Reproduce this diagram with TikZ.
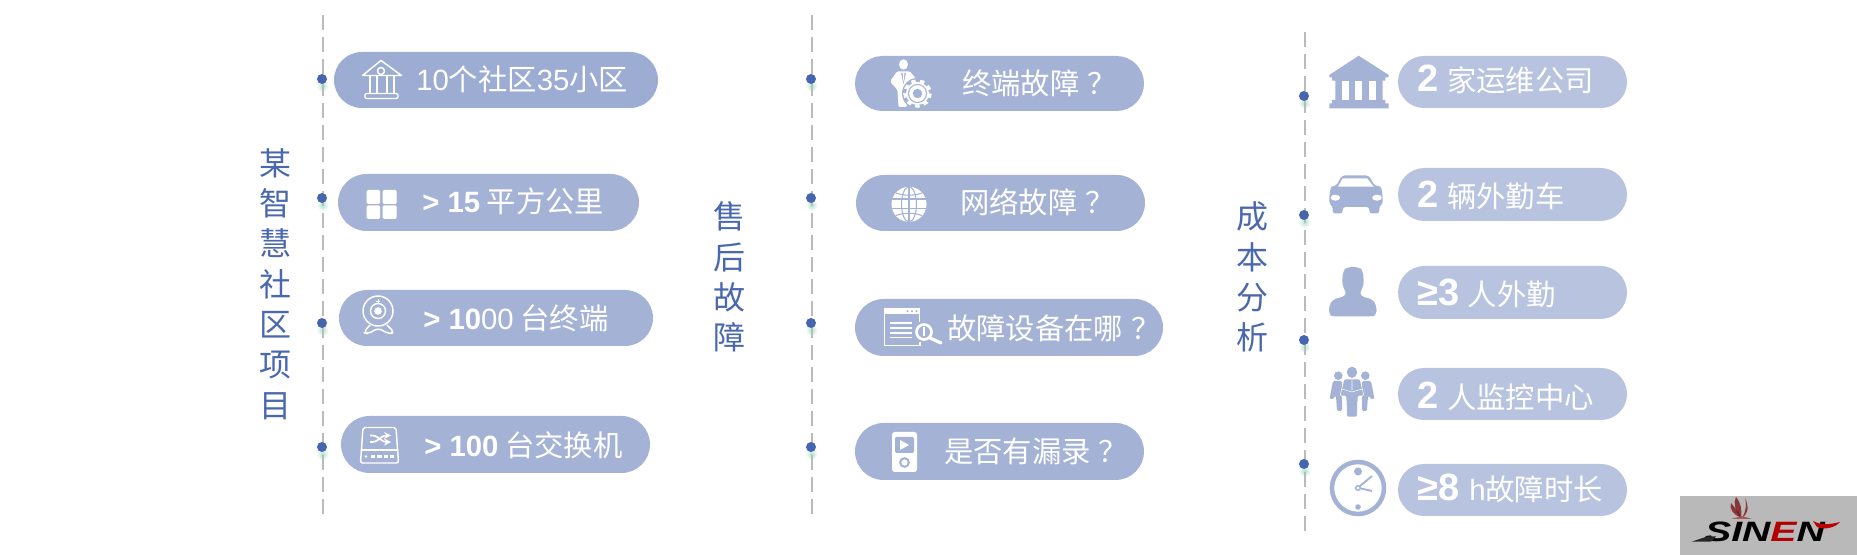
\documentclass[tikz,border=0pt]{standalone}
\usepackage{fontspec}
\setmainfont{Liberation Sans}
\newfontfamily\cjk{Noto Sans CJK SC}
\usetikzlibrary{shapes.misc}
\definecolor{titleblue}{HTML}{4A68AE}
\definecolor{dotblue}{HTML}{4566AE}
\definecolor{axisgray}{HTML}{BBBBBB}
\definecolor{pilldark}{HTML}{9DACD3}
\definecolor{pillmid}{HTML}{A4B2D6}
\definecolor{pilllight}{HTML}{B7C3DF}
\definecolor{glowgreen}{HTML}{AEE4CE}
\newcommand{\nm}[1]{{\rmfamily #1}}
\newcommand{\bnm}[1]{{\rmfamily\bfseries #1}}
\newcommand{\bigbnm}[1]{{\rmfamily\bfseries\fontsize{28.5}{28.5}\selectfont #1}}
\newcommand{\qmark}{\hspace{6pt}？}

\begin{document}
\begin{tikzpicture}[x=0.75pt,y=-0.75pt,
    pill/.style={rounded rectangle,inner sep=0pt,fill=pillmid},
    lightpill/.style={pill,fill=pilllight},
    lab/.style={anchor=base west,inner sep=0pt,text=white,font=\cjk\fontsize{22}{22}\selectfont},
    coltitle/.style={align=center,inner sep=0pt,text=titleblue,font=\cjk\fontsize{24}{30.2}\selectfont},
    axisline/.style={axisgray,line width=1.5pt,dash pattern=on 11.6pt off 4.9pt},
    dot/.style={circle,inner sep=0pt,minimum size=7.5pt,fill=dotblue},
    glow/.style={circle,inner sep=0pt,minimum size=9pt,inner color=glowgreen,outer color=white},
    icon/.style={white,line width=1.1pt,line join=round}]

  \useasboundingbox (0,0) rectangle (1857,555);

  \node[glow] (glowA1) at (322.5,86) {};
  \node[glow] (glowA2) at (322.5,205) {};
  \node[glow] (glowA3) at (322.5,330) {};
  \node[glow] (glowA4) at (322.5,454) {};
  \node[glow] (glowB1) at (811.5,86) {};
  \node[glow] (glowB2) at (811.5,205) {};
  \node[glow] (glowB3) at (811.5,330) {};
  \node[glow] (glowB4) at (811.5,454) {};
  \node[glow] (glowC1) at (1304.5,103) {};
  \node[glow] (glowC2) at (1304.5,222) {};
  \node[glow] (glowC3) at (1304.5,347) {};
  \node[glow] (glowC4) at (1304.5,471) {};

  \coordinate (axisAtop) at (322.8,15);
  \coordinate (axisAbot) at (322.8,515);
  \coordinate (axisBtop) at (811.8,15);
  \coordinate (axisBbot) at (811.8,515);
  \coordinate (axisCtop) at (1305,32);
  \coordinate (axisCbot) at (1305,532);
  \draw[axisline] (axisAtop) -- (axisAbot);
  \draw[axisline] (axisBtop) -- (axisBbot);
  \draw[axisline] (axisCtop) -- (axisCbot);

  \node[dot] (dotA1) at (322,79) {};
  \node[dot] (dotA2) at (322,198) {};
  \node[dot] (dotA3) at (322,323) {};
  \node[dot] (dotA4) at (322,447) {};
  \node[dot] (dotB1) at (811,79) {};
  \node[dot] (dotB2) at (811,198) {};
  \node[dot] (dotB3) at (811,323) {};
  \node[dot] (dotB4) at (811,447) {};
  \node[dot] (dotC1) at (1304,96) {};
  \node[dot] (dotC2) at (1304,215) {};
  \node[dot] (dotC3) at (1304,340) {};
  \node[dot] (dotC4) at (1304,464) {};

  \node[coltitle] (titleA) at (275,284) {某\\智\\慧\\社\\区\\项\\目};
  \node[coltitle] (titleB) at (729,277) {售\\后\\故\\障};
  \node[coltitle] (titleC) at (1252,277) {成\\本\\分\\析};

  \node[pill,fill=pilldark,minimum width=243pt,minimum height=42pt] (pillA1) at (496,80) {};
  \node[pill,minimum width=225.75pt,minimum height=42.75pt] (pillA2) at (488.5,202.5) {};
  \node[pill,minimum width=235.5pt,minimum height=42pt] (pillA3) at (496,318) {};
  \node[pill,minimum width=231.75pt,minimum height=42.75pt] (pillA4) at (495.5,444.5) {};
  \node[pill,minimum width=216.75pt,minimum height=41.25pt] (pillB1) at (999.5,83.5) {};
  \node[pill,minimum width=216.75pt,minimum height=42pt] (pillB2) at (1000.5,203) {};
  \node[pill,minimum width=231pt,minimum height=42.75pt] (pillB3) at (1009,327.5) {};
  \node[pill,minimum width=216.75pt,minimum height=42.75pt] (pillB4) at (999.5,451.5) {};
  \node[lightpill,minimum width=171.75pt,minimum height=39pt] (pillC1) at (1512.5,82) {};
  \node[lightpill,minimum width=171.75pt,minimum height=39.75pt] (pillC2) at (1512.5,194.5) {};
  \node[lightpill,minimum width=171.75pt,minimum height=39.75pt] (pillC3) at (1512.5,292.5) {};
  \node[lightpill,minimum width=171.75pt,minimum height=39pt] (pillC4) at (1512.5,394) {};
  \node[lightpill,minimum width=171.75pt,minimum height=39pt] (pillC5) at (1512.5,490) {};

  \node[lab] (labA1) at (416,91) {\nm{10}个社区\nm{35}小区};
  \node[lab] (labA2) at (422,212.5) {\bnm{> 15} 平方公里};
  \node[lab] (labA3) at (423,329.5) {\bnm{> 10}\nm{00} 台终端};
  \node[lab] (labA4) at (424,456.5) {\bnm{> 100} 台交换机};
  \node[lab] (labB1) at (962,94.5) {终端故障\qmark};
  \node[lab] (labB2) at (960,213.5) {网络故障\qmark};
  \node[lab] (labB3) at (947,339.5) {故障设备在哪\qmark};
  \node[lab] (labB4) at (944,462.5) {是否有漏录\qmark};
  \node[lab] (labC1) at (1417,91.5) {\bigbnm{2}\hspace{6.5pt}家运维公司};
  \node[lab] (labC2) at (1417,207.5) {\bigbnm{2}\hspace{6.5pt}辆外勤车};
  \node[lab] (labC3) at (1417,305.5) {\bigbnm{≥3}\hspace{6.5pt}人外勤};
  \node[lab] (labC4) at (1417,408.5) {\bigbnm{2}\hspace{6.5pt}人监控中心};
  \node[lab] (labC5) at (1417,500.5) {\bigbnm{≥8}\hspace{7.5pt}\nm{h}故障时长};

  \draw[icon,line cap=round] (381,60.5) -- (362.5,75.5) -- (401.5,75.5) -- cycle;
  \draw[icon] (381,71) circle (3.5);
  \draw[icon] (370,76) -- (370,93) (377,76) -- (377,93) (387,76) -- (387,93) (394,76) -- (394,93);
  \draw[icon,rounded corners=1pt] (365,93.5) rectangle (398,98.5);

  \fill[white,rounded corners=1pt] (366.7,190) rectangle (380,204);
  \fill[white,rounded corners=1pt] (382.7,190) rectangle (396.7,204);
  \fill[white,rounded corners=1pt] (366.7,205.3) rectangle (380,219);
  \fill[white,rounded corners=1pt] (382.7,205.3) rectangle (396.7,219);

  \draw[icon] (378,311) circle (15);
  \draw[icon] (378,311) circle (7.5);
  \fill[white] (378,311) circle (3.8);
  \draw[white,line width=0.7pt] (376,301) -- (380,301) (378,299) -- (378,303);
  \draw[icon,rounded corners=3pt] (370,325) -- (363.5,332.5) -- (368,334) -- (378,328) -- (389,334) -- (394.5,332.5) -- (387,325);

  \draw[icon,rounded corners=1.5pt] (363,427.5) -- (396,427.5) -- (398.5,463) -- (360.5,463) -- cycle;
  \draw[icon] (361,450) -- (398,450);
  \draw[icon,line width=1.3pt,rounded corners=2pt,-stealth] (370,442) -- (375,442) -- (384,435.5) -- (391,435.5);
  \draw[icon,line width=1.3pt,rounded corners=2pt,-stealth] (370,435.5) -- (375,435.5) -- (384,442) -- (391,442);
  \fill[white] (366,456.5) circle (1.3);
  \draw[white,line width=1.6pt,dash pattern=on 3.2pt off 1.6pt] (371,456.5) -- (395,456.5);

  \fill[white] (903.5,64.5) ellipse (4.5 and 5.2);
  \fill[white,rounded corners=1pt] (897,71.5) -- (910,71.5) -- (917,80) -- (908,90) -- (907,107) -- (898.5,107) -- (897.5,90) -- (890,81.5) -- cycle;
  \fill[pillmid] (901,73) -- (903.5,84) -- (906,73) -- cycle;
  \fill[white] (902.5,73) -- (904.5,73) -- (903.5,82) -- cycle;
  \fill[pillmid] (917.5,93.5) circle (15.5);
  \draw[white,line width=2.6pt,dash pattern=on 3.27pt off 3.27pt] (917.5,93.5) circle (12.5);
  \fill[white] (917.5,93.5) circle (11.5);
  \fill[pillmid] (917.5,93.5) circle (9.6);
  \fill[white] (917.5,93.5) circle (8.4);
  \fill[pillmid] (917.5,93.5) circle (4.7);

  \fill[white] (909,204.3) circle (17.5);
  \draw[pillmid,line width=0.8pt] (909,204.3) ellipse (7.5 and 17.5);
  \draw[pillmid,line width=0.8pt] (909,186.8) -- (909,221.8);
  \draw[pillmid,line width=0.8pt] (892,199) -- (926,199) (892,208.5) -- (926,208.5);
  \draw[pillmid,line width=0.8pt] (896,193) .. controls (904,196) and (914,196) .. (922,193);
  \draw[pillmid,line width=0.8pt] (896,215.5) .. controls (904,212.5) and (914,212.5) .. (922,215.5);

  \draw[white,line width=1.3pt] (920,342) -- (920,345.5) -- (884.5,345.5) -- (884.5,308.5) -- (919.5,308.5) -- (919.5,322);
  \fill[white] (884,308) rectangle (920,314.5);
  \fill[pillmid] (907.5,311.3) circle (1.1) (912,311.3) circle (1.1) (916.5,311.3) circle (1.1);
  \draw[white,line width=0.9pt] (890,323) -- (912,323) (890,328) -- (912,328) (890,333) -- (912,333) (890,337.5) -- (912,337.5);
  \draw[white,line width=2.4pt,line cap=round] (930,338) -- (941,343);
  \draw[white,fill=pillmid,line width=2pt] (924,332) circle (7.5);
  \fill[white] (923,327.5) rectangle (925,336);

  \fill[white,rounded corners=2pt] (892,432) rectangle (917,472);
  \fill[pillmid,rounded corners=1pt] (895,437) rectangle (914,453);
  \fill[white] (900,440) -- (900,450) -- (909,445) -- cycle;
  \draw[pillmid,line width=1.5pt] (904.5,462.5) circle (4.3);

  \fill[pillmid] (1358.7,55.7) -- (1388.7,75) -- (1388.7,77.3) -- (1385.3,77.3) -- (1385.3,80.7) -- (1382.7,80.7) -- (1382.7,100) -- (1385.3,100) -- (1385.3,103.3) -- (1388.7,103.3) -- (1388.7,108.3) -- (1329.3,108.3) -- (1329.3,103.3) -- (1332,103.3) -- (1332,100) -- (1335.3,100) -- (1335.3,80.7) -- (1332,80.7) -- (1332,77.3) -- (1329.3,77.3) -- (1329.3,75) -- cycle;
  \fill[white] (1342,80.7) rectangle (1348.7,100);
  \fill[white] (1355.3,80.7) rectangle (1362,100);
  \fill[white] (1369.3,80.7) rectangle (1376,100);

  \fill[pillmid,rounded corners=2pt] (1342,175.5) -- (1368.7,175.5) -- (1375,186) -- (1381,186) -- (1382.7,196) -- (1382.7,204) -- (1379.3,206) -- (1379.3,213.5) -- (1369.3,213.5) -- (1369.3,207) -- (1342.7,207) -- (1342.7,213.5) -- (1332.7,213.5) -- (1332.7,206) -- (1329.3,204) -- (1329.3,196) -- (1331,186) -- (1336,186) -- cycle;
  \fill[white] (1342.7,178.3) -- (1367,178.3) -- (1373.7,186.7) -- (1338,186.7) -- cycle;
  \fill[white] (1335.3,197.7) ellipse (4.8 and 3);
  \fill[white] (1377,197.7) ellipse (4.8 and 3);

  \fill[pillmid,rounded corners=3pt] (1343,271) -- (1347,267) -- (1359,267) -- (1363,271) -- (1364,285) -- (1360,292) -- (1360,296) -- (1373,299.5) -- (1376.5,306) -- (1376.5,315) -- (1372,316.5) -- (1333,316.5) -- (1329,315) -- (1329,306) -- (1332.5,299.5) -- (1346,296) -- (1346,292) -- (1342,285) -- cycle;

  \fill[pillmid] (1338.3,375.7) circle (4.3);
  \fill[pillmid] (1365.3,375.7) circle (4.3);
  \fill[pillmid,rounded corners=1pt] (1333,381) -- (1342,381) -- (1342,411) -- (1337,411) -- (1336,396) -- (1334,396) -- (1334,399) -- (1329.5,399) -- cycle;
  \fill[pillmid,rounded corners=1pt] (1362,381) -- (1371,381) -- (1374.5,399) -- (1370,399) -- (1370,396) -- (1368,396) -- (1367,411) -- (1362,411) -- cycle;
  \fill[pillmid] (1352,372.3) ellipse (5.2 and 5.6);
  \draw[white,fill=pillmid,line width=0.4pt,rounded corners=1pt] (1344,379) -- (1360,379) -- (1364,396) -- (1358,396) -- (1357,417) -- (1347,417) -- (1346,396) -- (1340,396) -- cycle;
  \draw[white,line width=0.4pt] (1342,389) -- (1352,392) -- (1362,389) (1352,380) -- (1352,390);

  \draw[pillmid,line width=3.4pt] (1358,488) circle (26);
  \fill[pillmid] (1358,471.5) circle (4);
  \fill[pillmid] (1358,507) circle (2.8);
  \draw[pillmid,line width=1.1pt] (1358,488) circle (2.3);
  \draw[pillmid,line width=1.4pt] (1360,486) -- (1372,476) (1361,488.5) -- (1372,491);

  \fill[gray!55] (1680,496) rectangle (1857,555);
  \fill[red!45!black,opacity=0.7] (1741,518) .. controls (1733,514) and (1729,509) .. (1731,503) .. controls (1735,508) and (1739,512) .. cycle;
  \fill[red!45!black,opacity=0.7] (1741,518) .. controls (1735,510) and (1733,503) .. (1736,497) .. controls (1741,503) and (1742,510) .. cycle;
  \fill[red!45!black,opacity=0.7] (1742,518) .. controls (1746,511) and (1747,504) .. (1745,498) .. controls (1748,504) and (1750,512) .. cycle;
  \fill[red!30!gray] (1731,519) -- (1752,519) -- (1742,516) -- cycle;
  \node[inner sep=0pt,text=black,font=\rmfamily\bfseries\itshape\fontsize{21}{21}\selectfont] (logoName) at (1765,532) {\scalebox{1.4}[1]{SIN{\color{red!70!black}E}N}};
  \fill[gray!30!black] (1691.7,541.7) -- (1707,536.5) -- (1716,536.5) -- (1711,541.7) -- cycle;
  \fill[red!75!black] (1813,521) .. controls (1822,526) and (1832,524) .. (1840,522) .. controls (1835,528) and (1824,530) .. (1817,527) -- cycle;
\end{tikzpicture}
\end{document}
